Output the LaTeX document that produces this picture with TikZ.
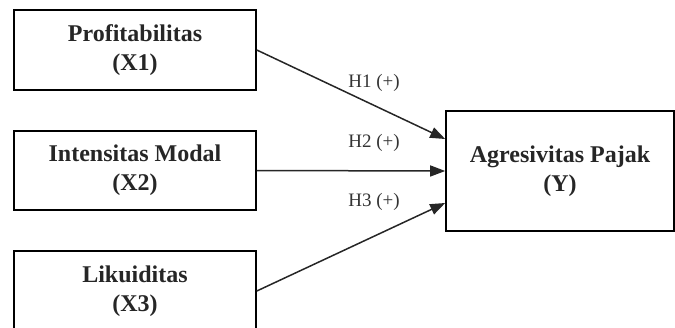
\documentclass[tikz,border=0pt]{standalone}
\usepackage{fontspec}
\setmainfont{Liberation Serif}
\usetikzlibrary{arrows.meta}
\begin{document}
\begin{tikzpicture}[x=1bp,y=-1bp,
  varbox/.style={draw=black, line width=1.6bp, align=center, inner sep=0pt,
    font=\fontsize{24bp}{29bp}\selectfont\bfseries, text=black!85},
  arr/.style={line width=1.5bp, draw=black!85, -{Triangle[length=15bp,width=11bp]}},
  hlabel/.style={font=\fontsize{19bp}{22bp}\selectfont, text=black!80, inner sep=0pt}]
\useasboundingbox (0,0) rectangle (675,327);
\clip (0,0) rectangle (675,327);
\node[varbox, minimum width=242bp, minimum height=80bp] (x1) at (135,50) {Profitabilitas\\(X1)};
\node[varbox, minimum width=242bp, minimum height=79bp] (x2) at (135,170.5) {Intensitas Modal\\(X2)};
\node[varbox, minimum width=242bp, minimum height=80bp] (x3) at (135,291) {Likuiditas\\(X3)};
\node[varbox, minimum width=228bp, minimum height=120bp] (y) at (560,171) {Agresivitas Pajak\\(Y)};
\draw[arr] (x1.east) -- ([yshift=32bp]y.west);
\draw[arr] (x2.east) -- (y.west);
\draw[arr] (x3.east) -- ([yshift=-32bp]y.west);
\node[hlabel] (h1) at (374,83) {H1 (+)};
\node[hlabel] (h2) at (374,143) {H2 (+)};
\node[hlabel] (h3) at (374,202) {H3 (+)};
\end{tikzpicture}
\end{document}
